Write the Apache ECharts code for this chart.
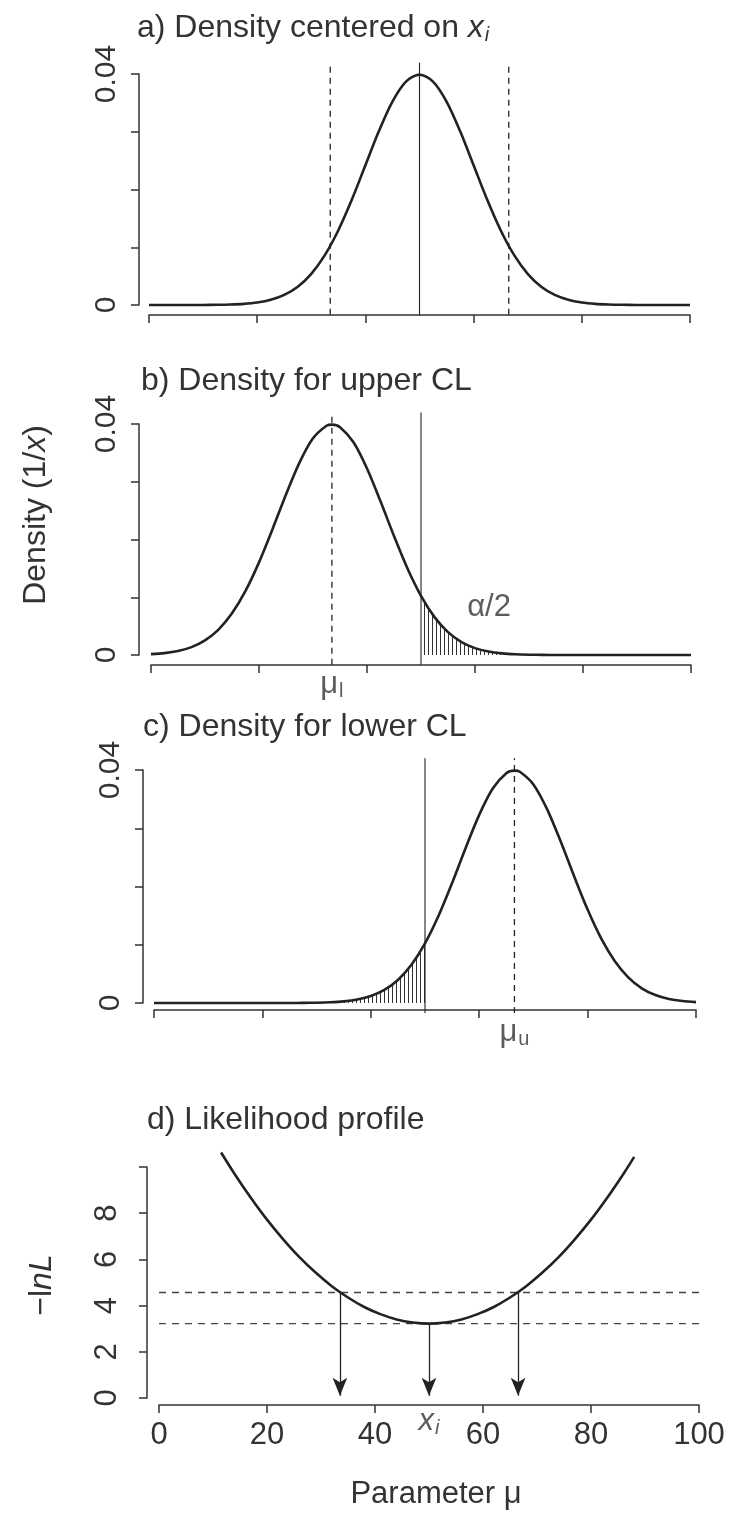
<!DOCTYPE html>
<html><head><meta charset="utf-8">
<script src="https://cdn.jsdelivr.net/npm/echarts@6/dist/echarts.min.js"></script>
<style>html,body{margin:0;padding:0;background:#fff}#c{width:743px;height:1526px}</style>
</head><body><div id="c"></div>
<script>
// ---------- data ----------
const muGridA = [0,2.5,5,7.5,10,12.5,15,17.5,20,22.5,25,27.5,30,32.5,35,37.5,40,42.5,45,47.5,50,
  52.5,55,57.5,60,62.5,65,67.5,70,72.5,75,77.5,80,82.5,85,87.5,90,92.5,95,97.5,100];
// a) density centred on x_i
const densityA = [0,0,0,0,0.00001,0.00004,0.00009,0.0002,0.00044,0.00091,0.00175,0.00317,0.0054,0.00863,0.01295,0.01826,0.0242,0.03011,0.03521,0.03867,0.03989,
  0.03867,0.03521,0.03011,0.0242,0.01826,0.01295,0.00863,0.0054,0.00317,0.00175,0.00091,0.00044,0.0002,0.00009,0.00004,0.00001,0,0,0,0];
// b) density for upper CL (centred on mu_l)
const muGridB = [0,2.5,5,7.5,10,12.5,15,17.5,20,22.5,25,27.5,30,32.5,33.5,35,37.5,40,42.5,45,47.5,50,
  52.5,55,57.5,60,62.5,65,67.5,70,72.5,75,77.5,80,82.5,85,87.5,90,92.5,95,97.5,100];
const densityB = [0.00015,0.00033,0.00069,0.00136,0.00252,0.0044,0.00721,0.01109,0.01604,0.02179,0.0278,0.03332,0.03752,0.03969,0.03989,0.03945,0.03683,0.0323,0.02661,0.0206,0.01497,0.01023,
  0.00656,0.00396,0.00224,0.00119,0.0006,0.00028,0.00012,0.00005,0.00002,0,0,0,0,0,0,0,0,0,0,0];
// c) density for lower CL (centred on mu_u)
const muGridC = [0,2.5,5,7.5,10,12.5,15,17.5,20,22.5,25,27.5,30,32.5,35,37.5,40,42.5,45,47.5,50,
  52.5,55,57.5,60,62.5,65,66.5,67.5,70,72.5,75,77.5,80,82.5,85,87.5,90,92.5,95,97.5,100];
const densityC = [0,0,0,0,0,0,0,0,0,0,0,0.00002,0.00005,0.00012,0.00028,0.0006,0.00119,0.00224,0.00396,0.00656,0.01023,
  0.01497,0.0206,0.02661,0.0323,0.03683,0.03945,0.03989,0.03969,0.03752,0.03332,0.0278,0.02179,0.01604,0.01109,0.00721,0.0044,0.00252,0.00136,0.00069,0.00033,0.00015];
const xi = 50;
const muL = 33.5;
const muU = 66.5;
const refLineTop = 0.042;      // top of the vertical reference lines
const refLineBottom = -0.0017; // they run down to the offset axis
// d) likelihood profile
const profileMu = [11.5,14,17,20,23,26,29,32,35,38,41,44,47,50,53,56,59,62,65,68,71,74,77,80,83,86,88];
const profileNegLnL = [10.63,9.70,8.67,7.72,6.87,6.10,5.43,4.84,4.35,3.94,3.63,3.40,3.27,3.22,3.27,3.40,3.63,3.94,4.35,4.84,5.43,6.10,6.87,7.72,8.67,9.70,10.44];
const levelValues = [3.22, 4.57];
const levelRange = [0, 103.5];
const arrowX = [33.5, 50, 66.5];
const arrowFrom = [4.57, 3.22, 4.57];
const arrowTo = 0.1;
const alphaLabelPos = [62.6, 0.0083];
// tick labels
const densityTickValues = [0, 0.04];
const densityTickLabels = ['0', '0.04'];
const profileTickValues = [0, 2, 4, 6, 8];
const profileTickLabels = ['0', '2', '4', '6', '8'];
const paramTickLabels = ['0', '20', '40', '60', '80', '100'];

// ---------- styling ----------
const F = "'Liberation Sans', Arial, Helvetica, sans-serif";
const INK = '#222';
const TXT = '#333';
const FS = 31;
const pairs = (xs, ys) => xs.map((x, i) => [x, ys[i]]);

const pat = document.createElement('canvas');
pat.width = 4; pat.height = 4;
const pg = pat.getContext('2d');
pg.fillStyle = '#333';
pg.fillRect(0, 0, 1, 4);

const grids = [
  {left: 149, width: 541, top: 74, height: 231},
  {left: 151, width: 540, top: 424, height: 231},
  {left: 154, width: 542, top: 770, height: 233},
  {left: 159, width: 540, top: 1167, height: 231}
];

const axisLineStyle = {color: '#333', width: 1.5};
function xAx(i, showLabels, offset) {
  return {
    type: 'value', gridIndex: i, min: 0, max: 100, interval: 20, offset: offset,
    axisLine: {show: true, onZero: false, lineStyle: axisLineStyle},
    axisTick: {show: true, length: 8, lineStyle: axisLineStyle},
    splitLine: {show: false},
    axisLabel: showLabels ? {
      show: true, margin: 15, fontSize: FS, fontFamily: F, color: TXT,
      formatter: v => paramTickLabels[Math.round(v / 20)]
    } : {show: false}
  };
}
function yDensity(i, offset) {
  return {
    type: 'value', gridIndex: i, min: 0, max: 0.04, interval: 0.01, offset: offset,
    axisLine: {show: true, onZero: false, lineStyle: axisLineStyle},
    axisTick: {show: true, length: 8, lineStyle: axisLineStyle},
    splitLine: {show: false},
    axisLabel: {
      show: true, rotate: 90, margin: 17, fontSize: 30, fontFamily: F, color: TXT,
      formatter: v => {
        const k = densityTickValues.findIndex(t => Math.abs(t - v) < 1e-9);
        return k >= 0 ? densityTickLabels[k] : '';
      }
    }
  };
}
const yProfile = {
  type: 'value', gridIndex: 3, min: 0, max: 10, interval: 2, offset: 12,
  axisLine: {show: true, onZero: false, lineStyle: axisLineStyle},
  axisTick: {show: true, length: 8, lineStyle: axisLineStyle},
  splitLine: {show: false},
  axisLabel: {
    show: true, rotate: 90, margin: 24, fontSize: FS, fontFamily: F, color: TXT,
    formatter: v => {
      const k = profileTickValues.findIndex(t => Math.abs(t - v) < 1e-9);
      return k >= 0 ? profileTickLabels[k] : '';
    }
  }
};

function curve(i, data) {
  return {type: 'line', xAxisIndex: i, yAxisIndex: i, data: data, smooth: 0.3, symbol: 'none',
    clip: false, lineStyle: {color: INK, width: 2.6}, z: 5};
}
function vline(i, x, dashed) {
  return {type: 'line', xAxisIndex: i, yAxisIndex: i, symbol: 'none', clip: false, silent: true,
    data: [[x, refLineBottom], [x, refLineTop]],
    lineStyle: {color: INK, width: dashed ? 1.3 : 1.1, type: dashed ? [6, 5] : 'solid'}, z: 3};
}
function hatch(i, data) {
  return {type: 'line', xAxisIndex: i, yAxisIndex: i, data: data, smooth: 0.3, symbol: 'none',
    lineStyle: {width: 0}, areaStyle: {color: {image: pat, repeat: 'repeat'}, opacity: 1}, z: 2};
}
function textPoint(i, pt, fmt, rich, pos, dist) {
  return {type: 'scatter', xAxisIndex: i, yAxisIndex: i, data: [pt], symbolSize: 0, clip: false, silent: true,
    label: {show: true, position: pos, distance: dist, formatter: fmt, rich: rich}};
}

const subRich = {
  m: {fontSize: FS, fontFamily: F, color: TXT},
  x: {fontSize: FS, fontFamily: F, color: TXT, fontStyle: 'italic'},
  s: {fontSize: 20, fontFamily: F, color: TXT, padding: [14, 0, 0, 1]},
  si: {fontSize: 20, fontFamily: F, color: TXT, fontStyle: 'italic', padding: [14, 0, 0, 1]}
};

const pairsA = pairs(muGridA, densityA);
const pairsB = pairs(muGridB, densityB);
const pairsC = pairs(muGridC, densityC);
const pairsD = pairs(profileMu, profileNegLnL);

const series = [
  // a
  curve(0, pairsA),
  vline(0, xi, false),
  vline(0, muL, true),
  vline(0, muU, true),
  // b
  hatch(1, pairsB.filter(p => p[0] >= xi)),
  curve(1, pairsB),
  vline(1, xi, false),
  vline(1, muL, true),
  textPoint(1, [muL, 0], '{m|μ}{s|l}', subRich, 'bottom', 12),
  {type: 'scatter', xAxisIndex: 1, yAxisIndex: 1, data: [alphaLabelPos], symbolSize: 0, silent: true, clip: false,
    label: {show: true, position: 'inside', formatter: 'α/2', fontSize: FS, fontFamily: F, color: TXT}},
  // c
  hatch(2, pairsC.filter(p => p[0] <= xi)),
  curve(2, pairsC),
  vline(2, xi, false),
  vline(2, muU, true),
  textPoint(2, [muU, 0], '{m|μ}{s|u}', subRich, 'bottom', 12),
  // d
  Object.assign(curve(3, pairsD), {
    markLine: {
      silent: true, symbol: ['none', 'arrow'], symbolSize: [11, 18], animation: false,
      label: {show: false},
      lineStyle: {color: INK, width: 1.3, type: 'solid'},
      data: arrowX.map((x, k) => [{coord: [x, arrowFrom[k]]}, {coord: [x, arrowTo]}])
    }
  }),
  ...levelValues.map(v => ({
    type: 'line', xAxisIndex: 3, yAxisIndex: 3, symbol: 'none', clip: false, silent: true,
    data: [[levelRange[0], v], [levelRange[1], v]],
    lineStyle: {color: '#444', width: 1.4, type: [7, 6]}, z: 3
  })),
  textPoint(3, [xi, 0], '{x|x}{si|i}', subRich, 'bottom', 6)
];

const titleRich = {
  n: {fontSize: 32, fontFamily: F, fill: TXT},
  x: {fontSize: 32, fontFamily: F, fill: TXT, fontStyle: 'italic'},
  s: {fontSize: 20, fontFamily: F, fill: TXT, fontStyle: 'italic', padding: [15, 0, 0, 1]}
};
function gText(x, y, text, opts) {
  return Object.assign({
    type: 'text', x: x, y: y, silent: true,
    style: {text: text, rich: titleRich, fontSize: 32, fontFamily: F, fill: TXT,
      align: 'left', verticalAlign: 'middle'}
  }, opts || {});
}

const option = {
  animation: false,
  backgroundColor: '#fff',
  grid: grids,
  xAxis: [xAx(0, false, 10), xAx(1, false, 10), xAx(2, false, 7), xAx(3, true, 7)],
  yAxis: [yDensity(0, 10), yDensity(1, 12), yDensity(2, 11), yProfile],
  series: series,
  graphic: [
    gText(137, 28, '{n|a) Density centered on }{x|x}{s|i}'),
    gText(141, 381, '{n|b) Density for upper CL}'),
    gText(143, 727, '{n|c) Density for lower CL}'),
    gText(147, 1120, '{n|d) Likelihood profile}'),
    {type: 'text', x: 436, y: 1494, silent: true,
      style: {text: 'Parameter μ', fontSize: FS, fontFamily: F, fill: TXT, align: 'center', verticalAlign: 'middle'}},
    {type: 'text', x: 36, y: 515, rotation: Math.PI / 2, silent: true,
      style: {text: '{n|Density (1/}{x|x}{n|)}', rich: titleRich, fontSize: 32, fontFamily: F, fill: TXT,
        align: 'center', verticalAlign: 'middle'}},
    {type: 'text', x: 42, y: 1285, rotation: Math.PI / 2, silent: true,
      style: {text: '{n|−l}{x|nL}', rich: titleRich, fontSize: 32, fontFamily: F, fill: TXT,
        align: 'center', verticalAlign: 'middle'}}
  ]
};

const chart = echarts.init(document.getElementById('c'));
chart.setOption(option);
</script>
</body></html>
